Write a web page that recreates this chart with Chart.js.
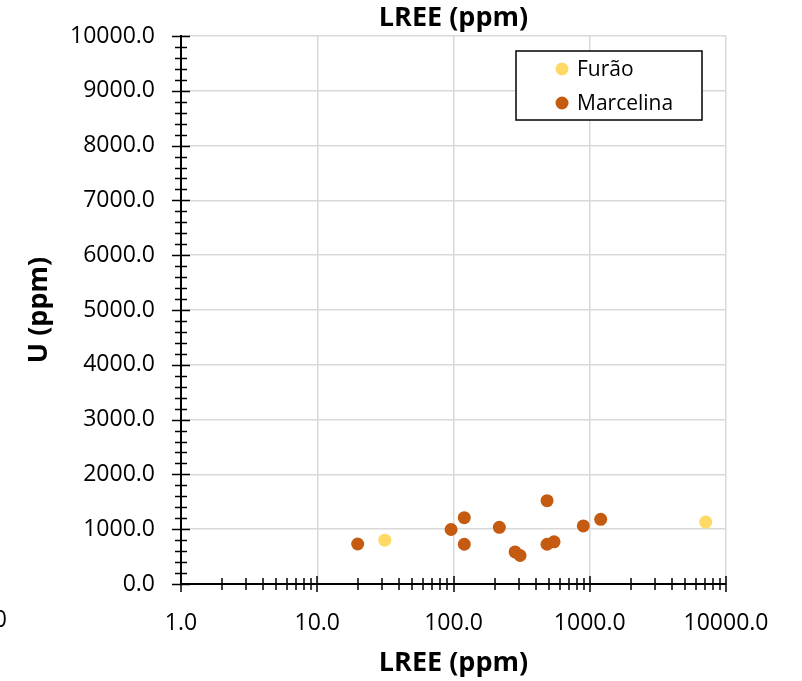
<!DOCTYPE html>
<html>
<head>
<meta charset="utf-8">
<script src="https://cdn.jsdelivr.net/npm/chart.js@4/dist/chart.umd.min.js"></script>
<style>
  html, body { margin: 0; padding: 0; background: #fff; }
  #wrap { width: 802px; height: 681px; }
</style>
</head>
<body>
<div id="wrap"><canvas id="chart" width="802" height="681"></canvas></div>
<script>
// LREE vs U, two localities
const furaoX = [31.3, 7100];
const furaoY = [800, 1130];
const marcelinaX = [19.8, 96, 120, 120, 217, 283, 308, 486, 486, 547, 897, 1203];
const marcelinaY = [730, 995, 1210, 725, 1035, 585, 520, 1520, 725, 770, 1060, 1180];
const xDecades = [1, 10, 100, 1000, 10000];
const yMax = 10000;
const yStep = 1000;
const yMinorStep = 200;
const topTitle = 'LREE (ppm)';

const FONT = '"Open Sans", "Liberation Sans", sans-serif';
const toPoints = (xs, ys) => xs.map((x, i) => ({ x, y: ys[i] }));

// excel-style tick marks that cross the axis lines, plus the title over the plot
const crossTicks = {
  id: 'crossTicks',
  afterDraw(chart) {
    const { ctx, scales: { x, y }, chartArea: a } = chart;
    ctx.save();
    ctx.strokeStyle = '#000';
    ctx.lineWidth = 1.5;
    ctx.beginPath();
    for (let v = 0; v <= yMax; v += yMinorStep) {
      const py = Math.round(y.getPixelForValue(v)) + 0.5;
      const h = v % yStep === 0 ? 9 : 6;
      ctx.moveTo(a.left - h, py); ctx.lineTo(a.left + h, py);
    }
    for (let d = 0; d < xDecades.length; d++) {
      const base = xDecades[d];
      const px = Math.round(x.getPixelForValue(base));
      ctx.moveTo(px, a.bottom - 8); ctx.lineTo(px, a.bottom + 8);
      if (d === xDecades.length - 1) break;
      for (let k = 2; k <= 9; k++) {
        const mx = Math.round(x.getPixelForValue(base * k));
        ctx.moveTo(mx, a.bottom - 6); ctx.lineTo(mx, a.bottom + 6);
      }
    }
    ctx.stroke();
    ctx.fillStyle = '#000';
    // leftover label clipped at the canvas edge
    ctx.font = '23px ' + FONT;
    ctx.textAlign = 'right';
    ctx.textBaseline = 'top';
    ctx.fillText('0.0', 7, a.bottom + 25);
    // title centred on the plot area
    ctx.font = 'bold 27px ' + FONT;
    ctx.textAlign = 'center';
    ctx.textBaseline = 'middle';
    ctx.fillText(topTitle, (a.left + a.right) / 2, 18);
    ctx.restore();
  }
};

// boxed legend in the upper right of the plot
const boxLegend = {
  id: 'boxLegend',
  afterDraw(chart) {
    const { ctx, chartArea: a } = chart;
    const w = 186, h = 69;
    const bx = a.right - 24 - w, by = a.top + 15;
    ctx.save();
    ctx.fillStyle = '#fff';
    ctx.fillRect(bx, by, w, h);
    ctx.strokeStyle = '#000';
    ctx.lineWidth = 1.5;
    ctx.strokeRect(bx, by, w, h);
    ctx.font = '21px ' + FONT;
    ctx.textBaseline = 'middle';
    ctx.textAlign = 'left';
    chart.data.datasets.forEach((ds, i) => {
      const cy = by + 18 + i * 34;
      ctx.fillStyle = ds.backgroundColor;
      ctx.beginPath();
      ctx.arc(bx + 46, cy, 6.5, 0, Math.PI * 2);
      ctx.fill();
      ctx.fillStyle = '#000';
      ctx.fillText(ds.label, bx + 61, cy + 1);
    });
    ctx.restore();
  }
};

new Chart(document.getElementById('chart'), {
  type: 'scatter',
  data: {
    datasets: [
      { label: 'Furão', data: toPoints(furaoX, furaoY), backgroundColor: '#FFD966', borderWidth: 0, pointRadius: 6.5, pointHoverRadius: 6.5 },
      { label: 'Marcelina', data: toPoints(marcelinaX, marcelinaY), backgroundColor: '#C55A11', borderWidth: 0, pointRadius: 6.5, pointHoverRadius: 6.5 }
    ]
  },
  options: {
    responsive: false,
    animation: false,
    layout: { padding: { left: 0, right: 76, top: 36, bottom: 0 } },
    plugins: {
      legend: { display: false },
      tooltip: { enabled: false },
      title: { display: false }
    },
    scales: {
      x: {
        type: 'logarithmic',
        min: 1,
        max: 10000,
        afterBuildTicks: (s) => { s.ticks = xDecades.map((v) => ({ value: v })); },
        afterFit: (s) => { s.height = 97; },
        grid: { color: '#d9d9d9', lineWidth: 1.5, drawTicks: false },
        border: { color: '#000', width: 2 },
        ticks: {
          color: '#000',
          padding: 26,
          maxRotation: 0,
          font: { family: FONT, size: 23 },
          callback: (v) => Number(v).toFixed(1)
        },
        title: {
          display: true,
          text: 'LREE (ppm)',
          color: '#000',
          font: { family: FONT, size: 27, weight: 'bold' },
          padding: { top: 0, bottom: 1 }
        }
      },
      y: {
        min: 0,
        max: yMax,
        // tick padding would otherwise push the plot top down
        afterFit: (s) => { s.width = 181; s.paddingTop = 14; s.paddingBottom = 14; },
        grid: { color: '#d9d9d9', lineWidth: 1.5, drawTicks: false },
        border: { color: '#000', width: 2 },
        ticks: {
          stepSize: yStep,
          color: '#000',
          padding: 26,
          font: { family: FONT, size: 23 },
          callback: (v) => Number(v).toFixed(1)
        },
        title: {
          display: true,
          text: 'U (ppm)',
          color: '#000',
          font: { family: FONT, size: 27, weight: 'bold' },
          padding: { top: 23, bottom: 0 }
        }
      }
    }
  },
  plugins: [crossTicks, boxLegend]
});
</script>
</body>
</html>
